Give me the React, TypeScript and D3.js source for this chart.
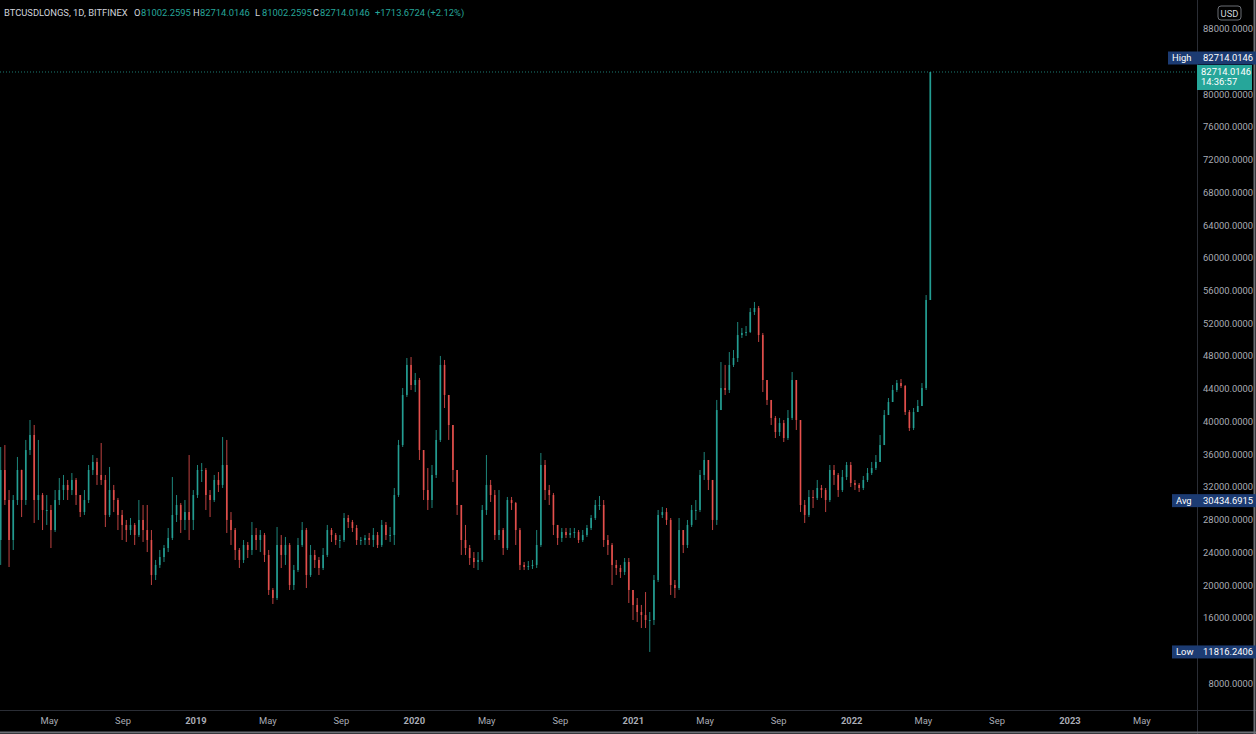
import React from "react";
import * as d3 from "d3";

const WIDTH = 1256;
const HEIGHT = 734;
const PLOT_RIGHT = 1197;
const PLOT_BOTTOM = 710;

const SYMBOL = "BTCUSDLONGS, 1D, BITFINEX";
const LAST_OHLC: [string, string][] = [
  ["O", "81002.2595"],
  ["H", "82714.0146"],
  ["L", "81002.2595"],
  ["C", "82714.0146"],
];
const CHANGE = "+1713.6724 (+2.12%)";
const CURRENCY = "USD";
const COUNTDOWN = "14:36:57";
const AVG_PRICE = 30434.6915;

// weekly aggregation of the daily series, first week starting 2018-02-05
const FIRST_WEEK = Date.UTC(2018, 1, 5);
const FIRST_OPEN = 25500;

const closes = [
  34060, 30390, 25500, 30390, 34060, 30390, 36500, 38340, 30390, 31000,
  29170, 29170, 26720, 30390, 31610, 32230, 31610, 32840, 31000, 28920,
  30390, 34060, 35040, 33450, 32840, 28560, 31610, 30390, 28560, 27340,
  26720, 27340, 26110, 27950, 26720, 25500, 21220, 22450, 23420, 24520,
  25750, 28560, 29780, 27950, 28920, 27950, 31000, 34060, 34060, 31000,
  30390, 32840, 32230, 34670, 27950, 26720, 24280, 23060, 24890, 24280,
  26110, 25500, 26110, 23670, 19390, 18410, 24890, 23670, 24890, 20000,
  21830, 24890, 26720, 21220, 23670, 23060, 22080, 23670, 26720, 26110,
  25500, 25500, 28190, 27700, 26970, 25500, 25500, 25750, 25500, 26110,
  24890, 27340, 26110, 26110, 31000, 37110, 43230, 46900, 44450, 45060,
  36500, 31610, 30390, 33450, 37730, 46900, 43230, 39560, 34060, 29780,
  25500, 24520, 23300, 22810, 23060, 29170, 32230, 31000, 26110, 26720,
  24520, 30390, 30020, 26720, 22450, 22200, 22320, 22450, 24890, 34670,
  31610, 31000, 27340, 25750, 26480, 26110, 26360, 26480, 25500, 26110,
  26970, 28190, 29780, 29780, 25500, 24890, 22450, 22080, 21590, 22810,
  19390, 17560, 16700, 16330, 15720, 15720, 20610, 28560, 28920, 27950,
  20000, 19630, 26720, 24890, 27340, 29170, 29170, 33450, 35280, 32840,
  27950, 41390, 44080, 43840, 46900, 47750, 50560, 50810, 50930, 53370,
  53860, 50560, 45060, 42620, 40420, 38700, 39800, 37970, 40420, 45060,
  40170, 29780, 28560, 30760, 30640, 31860, 31610, 30390, 34060, 33450,
  31610, 33200, 34670, 32470, 32230, 31860, 32840, 33690, 34300, 35040,
  37110, 40780, 42370, 43840, 44690, 44330, 41150, 39190, 41150, 41880,
  44080, 54840, 82714.0146,
];

const highs = [
  36870, 37110, 31610, 31000, 35650, 34100, 37730, 40170, 39560, 37730,
  31250, 31000, 29780, 31610, 33080, 33450, 32840, 33690, 33080, 31000,
  31610, 34670, 35890, 35530, 37360, 33450, 34430, 32230, 30640, 29170,
  27950, 28190, 27580, 30390, 29780, 29780, 26720, 23060, 24280, 24890,
  26970, 33200, 31000, 30020, 30390, 35890, 31610, 34670, 34910, 34300,
  31610, 33450, 33810, 38090, 37730, 28920, 26970, 24520, 25500, 25260,
  27700, 26970, 26720, 26360, 24280, 19630, 27090, 26110, 25870, 25130,
  22450, 25750, 27700, 26970, 24890, 24280, 23420, 24520, 27340, 26970,
  26360, 26110, 28800, 28560, 27950, 27340, 25870, 26110, 26360, 26970,
  26480, 27950, 27700, 27090, 31860, 37730, 44080, 47750, 47870, 45920,
  45310, 35890, 34300, 34670, 38950, 48000, 47510, 43230, 39190, 34060,
  29780, 27340, 24890, 24030, 24030, 29780, 35890, 32840, 31610, 31610,
  26970, 30760, 30760, 30150, 26970, 22810, 22930, 23060, 26720, 36140,
  35280, 32230, 31250, 27340, 26970, 26970, 26970, 26970, 26720, 26720,
  27340, 28560, 30390, 30880, 30390, 26110, 25130, 23060, 22450, 23300,
  23300, 18780, 18410, 17560, 19140, 16700, 21220, 29170, 29540, 29410,
  28190, 20610, 28190, 26720, 27950, 29780, 30390, 34060, 36260, 35280,
  32840, 42620, 47260, 46900, 48480, 48730, 52150, 51420, 51660, 53860,
  54600, 54110, 50810, 44450, 42620, 40660, 40420, 40170, 41390, 46040,
  45060, 40170, 30390, 31610, 31610, 32840, 32230, 31860, 34670, 34670,
  33690, 34060, 35040, 35040, 32840, 32470, 33330, 34300, 35040, 35890,
  38340, 41390, 42860, 44450, 45060, 45180, 44450, 41390, 41640, 42620,
  44690, 55450, 82714.0146,
];

const lows = [
  22450, 29780, 22200, 24280, 29780, 28310, 29780, 35890, 27580, 27950,
  26720, 27340, 24520, 26480, 29780, 30390, 30390, 31000, 29780, 28310,
  28560, 30020, 33450, 32230, 32230, 27090, 28310, 28920, 26720, 25500,
  25260, 26110, 24890, 25870, 25260, 24030, 20000, 20610, 22080, 22810,
  24030, 25500, 27700, 26360, 26720, 25500, 26720, 30640, 32590, 29170,
  28310, 30150, 31370, 31860, 26360, 24890, 23060, 22080, 22690, 23300,
  23670, 24280, 24030, 22810, 18780, 17680, 18170, 22080, 22450, 19390,
  19390, 21590, 24650, 19630, 20980, 22080, 21220, 21830, 23420, 25260,
  24890, 24520, 25260, 26970, 26480, 24890, 24890, 24890, 24890, 24650,
  24520, 24650, 25500, 25260, 24890, 30760, 36870, 42980, 43840, 43590,
  35280, 30390, 29170, 29410, 33080, 37480, 41640, 37730, 32590, 28560,
  23670, 23670, 22450, 22080, 21830, 22810, 28560, 30150, 25500, 25500,
  23670, 24280, 29170, 24890, 21830, 21830, 21830, 21960, 22080, 24650,
  30390, 29780, 26110, 24890, 25260, 25750, 25750, 25750, 25130, 25260,
  25870, 26720, 27950, 29170, 24650, 23670, 20000, 21220, 20860, 21220,
  17800, 15720, 15480, 14740, 14740, 11816.2406, 15110, 20370, 28190, 27340,
  18780, 18410, 19390, 23910, 24520, 27090, 27950, 28920, 32840, 31610,
  26720, 27340, 41390, 43230, 43470, 46650, 47260, 50200, 50440, 50810,
  53010, 49710, 43590, 42000, 39560, 37970, 38210, 37480, 37730, 40170,
  38950, 28920, 27580, 28310, 29410, 30390, 30640, 28920, 30150, 32230,
  30760, 31370, 32840, 31980, 31610, 31370, 31610, 32590, 33450, 34060,
  35040, 37110, 40780, 42370, 43590, 44080, 40780, 38830, 38950, 41150,
  41880, 43840, 54840,
];

const priceTicks = d3.range(8000, 88001, 4000);

const UP = "#26a69a";
const DOWN = "#ef5350";
const AXIS_TEXT = "#a9acb5";
const LABEL_BG = "#1c3b72";
const FONT = "Roboto, 'Liberation Sans', sans-serif";
const FS = 9.4;
const DAY = 864e5;

export default function App() {
  const x = d3
    .scaleUtc()
    .domain([new Date(Date.UTC(2019, 0, 1)), new Date(Date.UTC(2023, 0, 1))])
    .range([196, 1070]);
  const y = d3.scaleLinear().domain([0, 90000]).range([748.6, 12.4]);

  const candles = closes.map((c, i) => {
    const o = i === 0 ? FIRST_OPEN : closes[i - 1];
    const t0 = FIRST_WEEK + 7 * i * DAY;
    const x0 = x(new Date(t0));
    const x1 = x(new Date(t0 + 7 * DAY));
    const h = Math.max(highs[i], o, c);
    const l = Math.min(lows[i], o, c);
    return { o, c, h, l, cx: (x0 + x1) / 2 };
  });

  const bw = 1.7;
  const last = closes[closes.length - 1];
  const hi = d3.max(highs) as number;
  const lo = d3.min(lows) as number;
  const f4 = d3.format(".4f");

  const lastY = y(last);
  const highLabelY = y(hi) - 14;
  const avgY = y(AVG_PRICE) + 1;
  const lowY = y(lo);

  const blocked = [highLabelY, avgY, lowY];
  const visibleTicks = priceTicks.filter(
    (v) => blocked.every((b) => Math.abs(y(v) - b) > 9) && y(v) < PLOT_BOTTOM - 8
  );

  const timeTicks = d3.utcMonth
    .every(4)!
    .range(x.invert(0), x.invert(PLOT_RIGHT));
  const fmtTick = (d: Date) =>
    d.getUTCMonth() === 0 ? d3.utcFormat("%Y")(d) : d3.utcFormat("%b")(d);

  const headerPos = [
    [134, 141],
    [193, 200],
    [255, 262],
    [313, 320],
  ];

  return (
    <div style={{ position: "absolute", left: 0, top: 0 }}>
      <svg width={WIDTH} height={HEIGHT} style={{ display: "block", background: "#000" }}>
        <rect x={0} y={0} width={WIDTH} height={HEIGHT} fill="#000" />
        {/* separators */}
        <line x1={PLOT_RIGHT + 0.5} x2={PLOT_RIGHT + 0.5} y1={0} y2={HEIGHT} stroke="#2a2d35" />
        <line x1={0} x2={WIDTH} y1={PLOT_BOTTOM + 0.5} y2={PLOT_BOTTOM + 0.5} stroke="#2a2d35" />
        <line x1={WIDTH - 1.5} x2={WIDTH - 1.5} y1={0} y2={HEIGHT} stroke="#6b6e75" strokeWidth={2} />
        <line x1={0} x2={WIDTH} y1={HEIGHT - 1.5} y2={HEIGHT - 1.5} stroke="#6b6e75" strokeWidth={2} />

        {/* last price dotted line */}
        <line
          x1={0}
          x2={PLOT_RIGHT}
          y1={lastY}
          y2={lastY}
          stroke={UP}
          strokeOpacity={0.75}
          strokeDasharray="1,2"
        />

        {/* candles */}
        <g>
          {candles.map((d, i) => {
            const col = d.c >= d.o ? UP : DOWN;
            const top = y(Math.max(d.o, d.c));
            const bot = y(Math.min(d.o, d.c));
            return (
              <g key={i}>
                <line x1={d.cx} x2={d.cx} y1={y(d.h)} y2={y(d.l)} stroke={col} strokeWidth={1} strokeOpacity={0.8} />
                <rect x={d.cx - bw / 2} y={top} width={bw} height={Math.max(1, bot - top)} fill={col} fillOpacity={0.85} />
              </g>
            );
          })}
        </g>

        {/* header */}
        <text x={4} y={12.5} fontFamily={FONT} fontSize={FS} fill="#d1d4dc" dominantBaseline="central">
          {SYMBOL}
        </text>
        {LAST_OHLC.map(([k, v], i) => (
          <g key={k}>
            <text x={headerPos[i][0]} y={12.5} fontFamily={FONT} fontSize={FS} fill="#d1d4dc" dominantBaseline="central">
              {k}
            </text>
            <text x={headerPos[i][1]} y={12.5} fontFamily={FONT} fontSize={FS} fill={UP} dominantBaseline="central">
              {v}
            </text>
          </g>
        ))}
        <text x={375} y={12.5} fontFamily={FONT} fontSize={FS} fill={UP} dominantBaseline="central">
          {CHANGE}
        </text>

        {/* price axis */}
        <rect x={1218} y={6} width={23} height={14} rx={3} fill="none" stroke="#6b6e75" />
        <text x={1229.5} y={13.5} fontFamily={FONT} fontSize={FS} fill="#d1d4dc" textAnchor="middle" dominantBaseline="central">
          {CURRENCY}
        </text>
        {visibleTicks.map((v) => (
          <text
            key={v}
            x={1253}
            y={y(v)}
            fontFamily={FONT}
            fontSize={FS}
            fill={AXIS_TEXT}
            textAnchor="end"
            dominantBaseline="central"
          >
            {f4(v)}
          </text>
        ))}

        {/* High label */}
        <rect x={1168} y={highLabelY - 6.5} width={WIDTH - 1168} height={13} fill={LABEL_BG} />
        <text x={1172} y={highLabelY} fontFamily={FONT} fontSize={FS} fill="#fff" dominantBaseline="central">
          High
        </text>
        <text x={1253} y={highLabelY} fontFamily={FONT} fontSize={FS} fill="#fff" textAnchor="end" dominantBaseline="central">
          {f4(hi)}
        </text>

        {/* current price label */}
        <rect x={PLOT_RIGHT} y={lastY - 7} width={55} height={25} fill={UP} />
        <text x={1251} y={lastY} fontFamily={FONT} fontSize={FS} fill="#fff" textAnchor="end" dominantBaseline="central">
          {f4(last)}
        </text>
        <text x={1201} y={lastY + 10} fontFamily={FONT} fontSize={FS} fill="#fff" dominantBaseline="central">
          {COUNTDOWN}
        </text>

        {/* Avg label */}
        <rect x={1172} y={avgY - 6.5} width={WIDTH - 1172} height={13} fill={LABEL_BG} />
        <text x={1176} y={avgY} fontFamily={FONT} fontSize={FS} fill="#fff" dominantBaseline="central">
          Avg
        </text>
        <text x={1253} y={avgY} fontFamily={FONT} fontSize={FS} fill="#fff" textAnchor="end" dominantBaseline="central">
          {f4(AVG_PRICE)}
        </text>

        {/* Low label */}
        <rect x={1172} y={lowY - 6.5} width={WIDTH - 1172} height={13} fill={LABEL_BG} />
        <text x={1176} y={lowY} fontFamily={FONT} fontSize={FS} fill="#fff" dominantBaseline="central">
          Low
        </text>
        <text x={1253} y={lowY} fontFamily={FONT} fontSize={FS} fill="#fff" textAnchor="end" dominantBaseline="central">
          {f4(lo)}
        </text>

        {/* time axis */}
        {timeTicks.map((d) => (
          <text
            key={+d}
            x={x(d)}
            y={720}
            fontFamily={FONT}
            fontSize={FS}
            fontWeight={d.getUTCMonth() === 0 ? 700 : 400}
            fill={AXIS_TEXT}
            textAnchor="middle"
            dominantBaseline="central"
          >
            {fmtTick(d)}
          </text>
        ))}
      </svg>
    </div>
  );
}
